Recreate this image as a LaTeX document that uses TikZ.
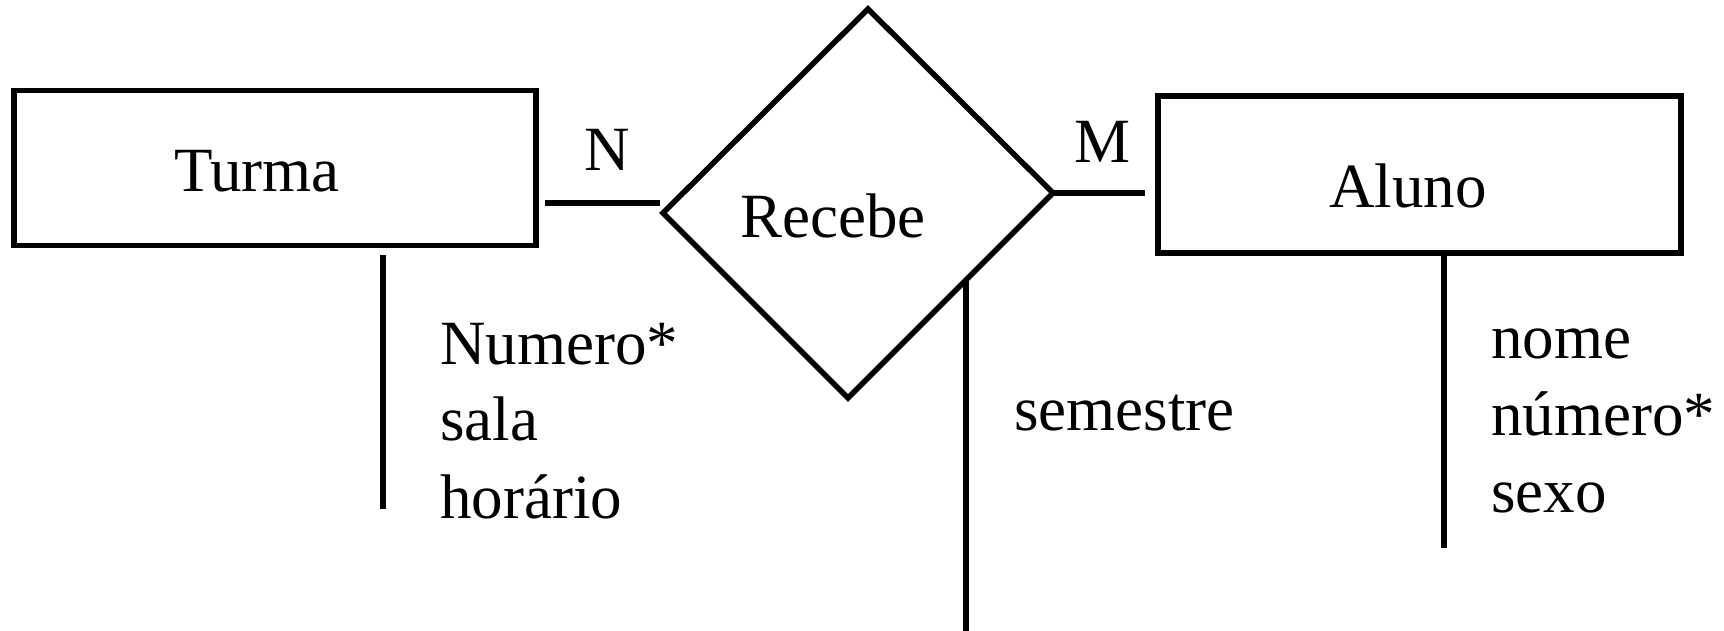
\documentclass[tikz,border=0pt]{standalone}
\usepackage{fontspec}
\setmainfont{Liberation Serif}
\usetikzlibrary{calc}
\begin{document}
\begin{tikzpicture}[x=1pt,y=-1pt,
  ln/.style={line width=5.5pt},
  ebox/.style={draw,line width=5.5pt,inner sep=0pt,minimum width=#1},
  txt/.style={inner sep=0pt,anchor=base west,font=\fontsize{63}{77}\selectfont}]
\useasboundingbox (0,0) rectangle (1724,631);
% entities
\node[ebox=522pt,minimum height=155pt] (turma) at (275,168) {};
\node[ebox=523pt,minimum height=157pt] (aluno) at (1419.5,174.5) {};
\node[txt] (turmaT) at (174,192) {Turma};
\node[txt] (alunoT) at (1329,208) {Aluno};
% relationship
\coordinate (dT) at (868,9);
\coordinate (dR) at (1053,193);
\coordinate (dB) at (848,398);
\coordinate (dL) at (663,213);
\draw[ln,line join=miter] (dT) -- (dR) -- (dB) -- (dL) -- cycle;
\node[txt] (recebe) at (740,237) {Recebe};
% cardinalities
\coordinate (nA) at (545,203);
\coordinate (nB) at (660,203);
\draw[ln] (nA) -- (nB);
\node[txt] (N) at (584,171) {N};
\coordinate (mB) at (1145,193);
\draw[ln] (dR) -- (mB);
\node[txt] (M) at (1074,163) {M};
% attributes
\coordinate (ta) at (383,255);
\coordinate (tb) at (383,509);
\draw[ln] (ta) -- (tb);
\node[txt] (a1) at (440,364) {Numero*};
\node[txt] (a2) at (440,440) {sala};
\node[txt] (a3) at (440,518) {horário};
\coordinate (sa) at ($(dB)!0.5756!(dR)$);
\coordinate (sb) at (sa |- 0,631);
\draw[ln] (sa) -- (sb);
\node[txt] (s1) at (1014,430) {semestre};
\coordinate (aa) at (1444,255);
\coordinate (ab) at (1444,548);
\draw[ln] (aa) -- (ab);
\node[txt] (b1) at (1491,358) {nome};
\node[txt] (b2) at (1491,435) {número*};
\node[txt] (b3) at (1491,512) {sexo};
\end{tikzpicture}
\end{document}
